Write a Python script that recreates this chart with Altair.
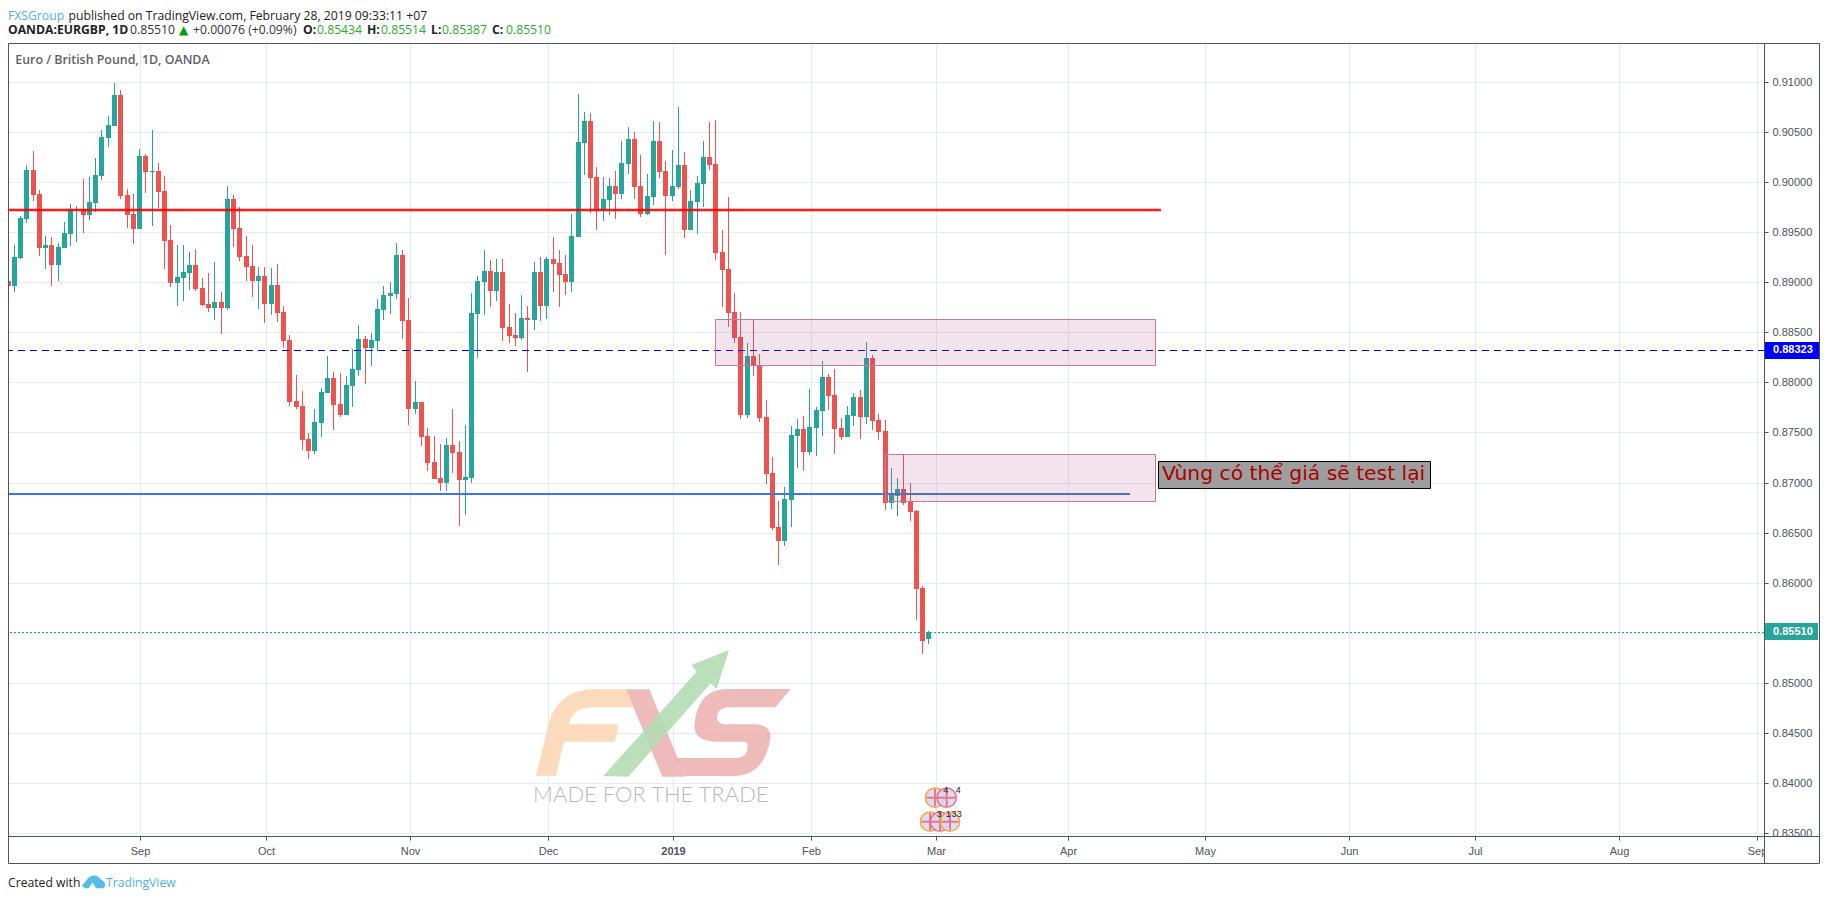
import altair as alt
import pandas as pd

# Daily EUR/GBP candles, in 1e-5 price units
open_pts = [
 89016,88966,89242,89635,90124,89885,89345,89375,89175,89345,
 89485,89725,89735,89675,89795,90064,90444,90564,90873,89875,
 89685,89535,90264,90104,90114,89914,89425,88996,89046,89096,
 89175,88946,88786,88746,88806,88746,89835,89545,89265,89165,
 89016,89066,88786,88976,88706,88426,87817,87767,87438,87318,
 87597,87897,88047,87787,87677,87967,88127,88436,88347,88416,
 88726,88866,88886,89275,88626,87737,87807,87468,87208,87048,
 86998,87378,87308,87028,87048,88686,89006,89116,88916,89105,
 88556,88476,88446,88646,88626,89105,88766,89235,89195,89086,
 89006,89455,90394,90614,90054,89725,89825,89964,89885,90184,
 90434,89964,89685,89855,90414,90114,89865,89954,90174,89525,
 89805,89984,90254,90184,89305,89135,88706,88456,87677,88267,
 88177,87657,87098,86559,86419,86828,87468,87538,87308,87548,
 87717,88057,87877,87548,87458,87667,87857,87657,88247,87627,
 87518,86798,86868,86938,86809,86719,85950,85434]
high_pts = [
 89192,89375,89665,90174,90314,89924,89465,89455,89395,89605,
 89785,89765,90034,90054,90244,90524,90664,90993,90923,89934,
 89885,90334,90284,90524,90194,90064,89575,89375,89375,89305,
 89335,89046,89096,89205,88906,89964,89875,89755,89465,89375,
 89155,89155,89145,89185,88766,88476,88077,87917,87498,87737,
 87947,88267,88107,88097,88067,88337,88576,88466,88496,88836,
 88966,89006,89395,89325,88846,88017,87807,87548,87468,87388,
 87448,87737,87418,87578,88896,89066,89325,89225,89235,89235,
 88786,88696,88876,88766,89205,89255,89255,89455,89325,89275,
 89685,90883,90703,90693,90154,90054,90044,90114,90414,90554,
 90504,90274,90084,90614,90604,90214,90324,90753,90304,89924,
 90064,90414,90604,90624,89525,89855,88896,88706,88396,88626,
 88287,87827,87258,86818,86958,87568,87637,87667,87937,87757,
 88217,88087,88137,87647,87767,87897,87927,88406,88277,87687,
 87627,87148,87048,87278,86998,86729,85970,85514]
low_pts = [
 88942,88906,89232,89595,89815,89265,89135,88966,89016,89345,
 89365,89405,89495,89625,89705,90024,90354,90564,89835,89545,
 89385,89535,89895,89565,89745,89135,88956,88766,88816,88926,
 88916,88766,88706,88626,88486,88726,89355,89215,89016,88856,
 88736,88596,88676,88606,88347,87767,87737,87328,87238,87288,
 87458,87897,87528,87657,87677,87757,88067,87987,88167,88317,
 88626,88686,88836,88436,87578,87687,87368,87118,87038,86918,
 86918,87098,86569,86679,86998,88247,88676,88756,88816,88416,
 88396,88366,88426,88107,88526,88616,88636,88906,88756,88876,
 88906,89455,90074,89695,89525,89615,89675,89635,89835,90084,
 89835,89655,89675,89775,90044,89275,89815,89934,89445,89525,
 89485,89755,90124,89225,88756,88556,88396,87637,87647,88067,
 87608,86988,86529,86179,86369,86559,87148,87118,87278,87268,
 87468,87727,87288,87428,87458,87568,87438,87587,87528,87428,
 86729,86739,86669,86779,86619,85630,85290,85387]
close_pts = [
 88966,89255,89645,90124,89875,89345,89375,89175,89355,89495,
 89735,89735,89675,89805,90074,90454,90574,90873,89865,89675,
 89535,90264,90104,90114,89904,89415,88996,89056,89105,89175,
 88936,88776,88746,88806,88746,89835,89535,89255,89155,89016,
 89066,88786,88976,88696,88416,87807,87757,87428,87318,87608,
 87907,88047,87777,87677,87977,88137,88436,88347,88426,88736,
 88876,88896,89275,88616,87737,87807,87458,87198,87038,86998,
 87378,87298,87028,87058,88696,89016,89116,88916,89105,88546,
 88466,88446,88646,88626,89105,88766,89235,89185,89076,89006,
 89465,90404,90614,90044,89725,89835,89964,89885,90194,90434,
 89954,89685,89865,90414,90104,89865,89964,90174,89525,89815,
 89994,90254,90174,89295,89125,88696,88446,87677,88267,88167,
 87647,87088,86549,86419,86838,87478,87538,87308,87558,87727,
 88057,87867,87538,87458,87677,87857,87657,88247,87617,87508,
 86798,86889,86938,86798,86709,85940,85420,85510]

x_ticks = [21.2,41.2,64.2,86.2,106.2,128.2,148.2,169.2,191.2,214.2,234.2,257.2,279.2]
x_labels = ["Sep","Oct","Nov","Dec","2019","Feb","Mar","Apr","May","Jun","Jul","Aug","Sep"]
y_ticks = [0.835,0.84,0.845,0.85,0.855,0.86,0.865,0.87,0.875,0.88,0.885,0.89,0.895,0.90,0.905,0.91]

# drawn levels and zones: bar-index extents and prices
red_level = [0.89721, -0.24, 184.1]
blue_solid_level = [0.86889, -0.24, 179.1]
blue_dash_level = [0.88323, -0.24, 280.37]
last_level = [0.85510, -0.24, 280.37]
zones = [[113.0, 183.2, 0.88633, 0.88170], [140.0, 183.2, 0.87285, 0.86812]]
note_box = [183.6, 227.0, 0.87215, 0.86942]
note_anchor = [184.25, 0.87085]
note_text = "Vùng có thể giá sẽ test lại"

W, H = 1758, 793
xs = alt.Scale(domain=[-0.24, 280.37], range=[0, W], round=True, nice=False, zero=False, padding=0)
ys = alt.Scale(domain=[0.913895, 0.834698], range=[0, H], round=True, nice=False, zero=False, padding=0)

df = pd.DataFrame({"i": range(len(open_pts)), "o": open_pts, "h": high_pts, "l": low_pts, "c": close_pts})
for k in "ohlc":
    df[k] = df[k] / 1e5
df["col"] = ["#26a69a" if c >= o else "#ef5350" for o, c in zip(df.o, df.c)]

one = pd.DataFrame({"a": [0]})
GRAY = "#4c525e"
GRID = "#e3ecf3"
SANS = "Open Sans"
ARIAL = "Liberation Sans"

label_expr = "%s[indexof(%s, datum.value)]" % (str(x_labels), str(x_ticks))
x_axis = alt.Axis(
    values=x_ticks, labelExpr=label_expr, grid=True, gridColor=GRID, gridWidth=1, title=None,
    domain=False, tickSize=4, tickColor=GRAY, labelColor=GRAY, labelFont=ARIAL, labelFontSize=11,
    labelPadding=5, labelOverlap=False, labelFlush=False, labelBound=False,
    labelFontWeight={"condition": {"test": "datum.value == 106.2", "value": "bold"}, "value": "normal"})
y_axis = alt.Axis(
    orient="right", values=y_ticks, format=".5f", grid=True, gridColor=GRID, gridWidth=1, title=None,
    domain=False, tickSize=4, tickColor=GRAY, labelColor=GRAY, labelFont=ARIAL, labelFontSize=11,
    labelPadding=4, labelOverlap=False, labelFlush=False, labelBound=False)

def X(f):
    return alt.X(f, type="quantitative", scale=xs, axis=x_axis, title=None)
def Y(f):
    return alt.Y(f, type="quantitative", scale=ys, axis=y_axis, title=None)

def txt(px, py, s, size=12.2, color="#222222", weight="normal", font=SANS, align="left", **kw):
    return alt.Chart(one).mark_text(fontSize=size, color=color, fontWeight=weight, font=font,
                                    align=align, baseline="middle", **kw).encode(
        x=alt.value(px - 6), y=alt.value(py - 43), text=alt.value(s))

def shape(path, color, ax, ay, op=1.0, scale=1/3):
    return alt.Chart(one).mark_point(shape=path, filled=True, color=color, opacity=op,
                                     strokeWidth=0, size=(2 * scale) ** 2).encode(
        x=alt.value(ax - 6), y=alt.value(ay - 43))

def seg(x0, x1, y0, y1, color=GRAY, w=1):
    return alt.Chart(one).mark_rule(color=color, strokeWidth=w).encode(
        x=alt.value(x0), x2=alt.value(x1), y=alt.value(y0), y2=alt.value(y1))

wicks = alt.Chart(df).mark_rule(strokeWidth=1, xOffset=0.5).encode(
    x=X("i"), y=Y("h"), y2="l:Q", color=alt.Color("col:N", scale=None, legend=None))

bodies = alt.Chart(df).mark_bar(size=5, xOffset=0.5).encode(
    x=X("i"), y=Y("o"), y2="c:Q", color=alt.Color("col:N", scale=None, legend=None))

def level(spec, color, w, off=True, **kw):
    d = pd.DataFrame({"y": [spec[0]], "x0": [spec[1]], "x1": [spec[2]]})
    if off:
        kw["yOffset"] = 0.5
    return alt.Chart(d).mark_rule(color=color, strokeWidth=w, **kw).encode(x=X("x0"), x2="x1:Q", y=Y("y"))

zone_df = pd.DataFrame(zones, columns=["x0", "x1", "y0", "y1"])
zone_layer = alt.Chart(zone_df).mark_rect(fill="#b0457f", fillOpacity=0.15, stroke="#c27ba0", strokeWidth=1,
                                          xOffset=0.5, x2Offset=0.5, yOffset=0.5, y2Offset=0.5).encode(
    x=X("x0"), x2="x1:Q", y=Y("y0"), y2="y1:Q")

box_df = pd.DataFrame([note_box], columns=["x0", "x1", "y0", "y1"])
box = alt.Chart(box_df).mark_rect(fill="#9e9e9e", stroke="#000000", strokeWidth=1,
                                  xOffset=0.5, x2Offset=0.5, yOffset=0.5, y2Offset=0.5).encode(
    x=X("x0"), x2="x1:Q", y=Y("y0"), y2="y1:Q")
note = alt.Chart(pd.DataFrame({"x": [note_anchor[0]], "y": [note_anchor[1]], "t": [note_text]})).mark_text(
    font="DejaVu Sans", fontSize=20.3, color="#a80000", align="left", baseline="middle").encode(
    x=X("x"), y=Y("y"), text="t:N")

def tag(price, color, x1):
    t = pd.DataFrame({"y0": [price + 0.00085], "y1": [price - 0.00085], "y": [price], "t": ["%.5f" % price]})
    r = alt.Chart(t).mark_rect(fill=color).encode(x=alt.value(1759), x2=alt.value(x1), y=Y("y0"), y2="y1:Q")
    s = alt.Chart(t).mark_text(font=ARIAL, fontSize=11, fontWeight="bold", color="#ffffff", align="left",
                               baseline="middle").encode(x=alt.value(1767), y=Y("y"), text="t:N")
    return r + s

# watermark logo, path units = 1/3 px from (500, 620)
F_PATH = "M108 467 L143 325 C160 250 200 210 285 208 L378 208 L400 262 L285 262 C235 262 215 280 207 313 L355 313 L345 365 L192 365 L168 467 Z"
X_PATH = "M378 208 L448 208 L556 470 L487 470 Z"
S_PATH = ("M872 207 L680 207 C620 207 590 250 584 310 C580 345 600 365 650 365 L730 365 C745 365 745 380 740 395 "
          "C735 410 720 414 700 414 L530 414 L556 468 L700 468 C770 468 800 420 810 360 C815 330 800 313 760 313 "
          "L680 313 C655 313 648 300 652 285 C656 270 668 262 690 262 L826 262 Z")
ARROW_PATH = "M310 468 L590 155 L574 135 L687 90 L650 207 L632 190 L385 470 Z"
CLOUD_PATH = "M246 107 L262 88 C268 76 290 72 298 84 L308 92 C318 98 318 115 305 115 L288 115 L278 97 L266 115 L255 115 Z"

logo = [shape(F_PATH, "#fbd3b0", 500, 620, 0.85), shape(X_PATH, "#ebaeae", 500, 620, 0.85),
        shape(S_PATH, "#ebaeae", 500, 620, 0.85), shape(ARROW_PATH, "#b4dcb2", 500, 620, 0.9),
        txt(533, 795, "MADE FOR THE TRADE", size=22, color="#b9b9b9", weight=300, font="Lato")]

# calendar event flags under the last bars
events = []
for zx, zy, ring in [(1305, 533, "#f7a12e"), (1340, 533, "#f7607a"), (1290, 605, "#f7a12e"),
                     (1320, 605, "#f7607a"), (1350, 605, "#f7a12e")]:
    px, py = 500 + zx / 3, 620 + zy / 3
    events.append(alt.Chart(one).mark_point(shape="circle", filled=True, fill="#d6daef", stroke=ring, strokeWidth=1.5,
                                            size=370, opacity=0.9).encode(x=alt.value(px - 6), y=alt.value(py - 43)))
    events.append(alt.Chart(one).mark_point(shape="M-1 0 L1 0 M0 -1 L0 1", stroke="#f0506a", strokeWidth=2, size=300,
                                            filled=False).encode(x=alt.value(px - 6), y=alt.value(py - 43)))
for zx, zy, s in [(1337, 511, "4"), (1375, 511, "4"), (1318, 582, "3"), (1345, 582, "1"), (1362, 582, "3"), (1378, 582, "3")]:
    events.append(txt(500 + zx / 3, 620 + zy / 3, s, size=9, color="#222222", font=ARIAL, align="center"))

GREEN = "#28ad28"
HEAD_Y = 16
texts = [
    txt(8, HEAD_Y, "FXSGroup", color="#4db3e6"),
    txt(68.5, HEAD_Y, "published on TradingView.com, February 28, 2019 09:33:11 +07", color="#222222"),
    txt(8, 30, "OANDA:EURGBP, 1D", weight="bold"),
    txt(130, 30, "0.85510", color="#333333"),
    txt(179, 30, "▲", color="#00a000", size=12, font="DejaVu Sans"),
    txt(193, 30, "+0.00076 (+0.09%)", color="#333333"),
    txt(303, 30, "O:", weight="bold"), txt(317, 30, "0.85434", color=GREEN),
    txt(367, 30, "H:", weight="bold"), txt(381, 30, "0.85514", color=GREEN),
    txt(431, 30, "L:", weight="bold"), txt(442, 30, "0.85387", color=GREEN),
    txt(492, 30, "C:", weight="bold"), txt(506, 30, "0.85510", color=GREEN),
    txt(15.3, 60, "Euro / British Pound, 1D, OANDA", size=12.4, color="#5d606b", weight=600),
    txt(8, 883, "Created with", color="#222222"),
    shape(CLOUD_PATH, "#53bde8", 0, 850),
    txt(106, 883, "TradingView", color="#4db3e6"),
]

cover = alt.Chart(one).mark_rect(fill="#ffffff").encode(
    x=alt.value(1759), x2=alt.value(1813), y=alt.value(794), y2=alt.value(819))

frame = [seg(2.5, 1813.5, 0.5, 0.5), seg(2.5, 1813.5, 793.5, 793.5), seg(2.5, 1813.5, 820.5, 820.5),
         seg(2.5, 2.5, 0.5, 820.5), seg(1758.5, 1758.5, 0.5, 820.5), seg(1813.5, 1813.5, 0.5, 820.5)]

chart = alt.layer(
    wicks, *logo, bodies,
    level(last_level, "#26a69a", 1, strokeDash=[2, 2]),
    level(red_level, "#ff0000", 2.5, off=False, opacity=0.9),
    level(blue_solid_level, "#3d78d8", 2, off=False),
    level(blue_dash_level, "#0000ff", 1, strokeDash=[7, 5]),
    zone_layer, box, note, *events, cover,
    tag(0.88323, "#0000ff", 1813), tag(0.85510, "#26a69a", 1812),
    *frame, *texts,
).properties(
    width=W, height=H, padding={"left": -2, "top": 35, "right": 56, "bottom": 60},
    autosize=alt.AutoSizeParams(type="none"), background="#ffffff",
).configure_view(stroke=None)

chart.save("out.html", embed_options={"renderer": "svg", "actions": False})
